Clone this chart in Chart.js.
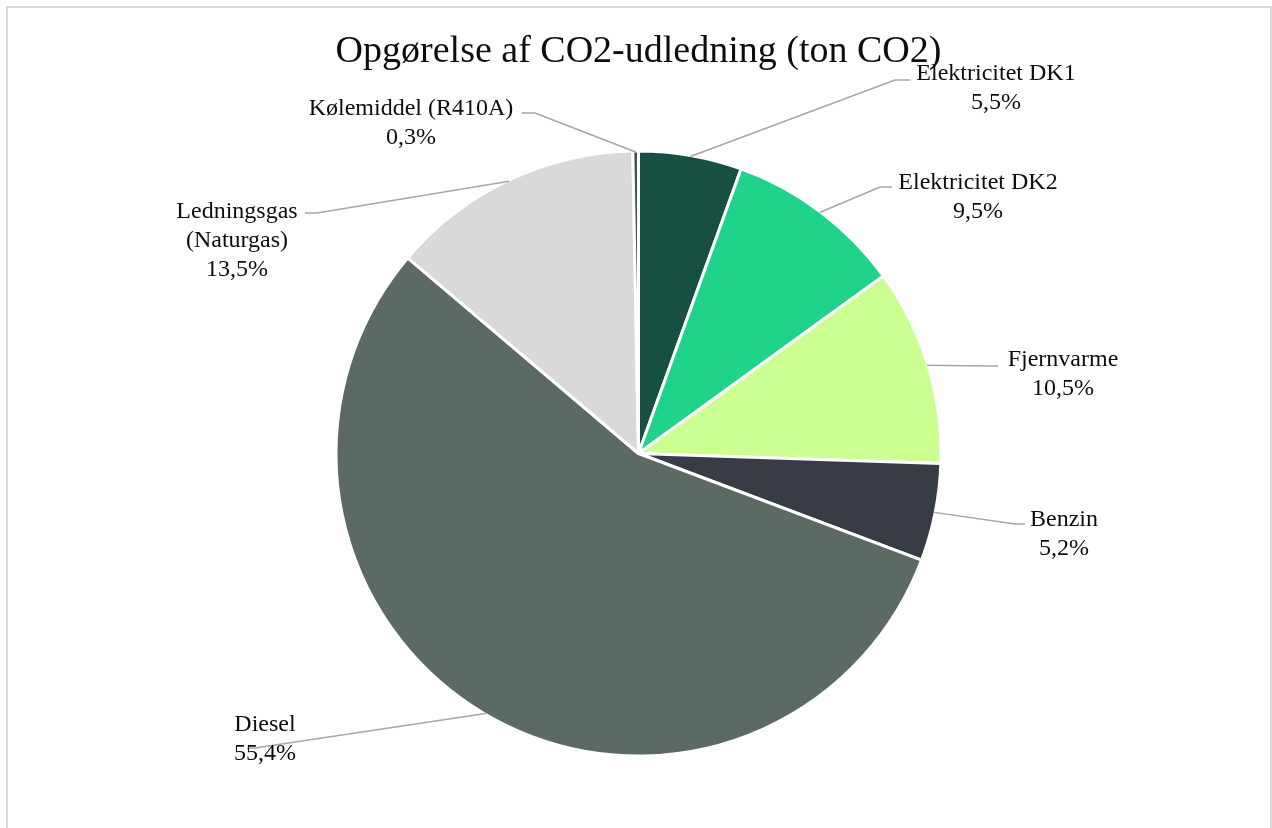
<!DOCTYPE html>
<html lang="da">
<head>
    <meta charset="UTF-8">
    <script src="https://cdn.jsdelivr.net/npm/chart.js"></script>
    <title>Opgørelse af CO2-udledning</title>
    <style>
        body {
            margin: 0;
            background: #fff;
            overflow: hidden;
        }
        #frame {
            position: absolute;
            left: 6px;
            top: 6px;
            width: 1262px;
            height: 840px;
            border: 2px solid #d9d9d9;
        }
        #wrap {
            position: absolute;
            left: 0;
            top: 0;
            width: 1272px;
            height: 828px;
        }
    </style>
</head>

<body>
    <div id="frame"></div>
    <div id="wrap"><canvas id="co2Chart"></canvas></div>

    <script>
        // kategorier og andele (%)
        const categories = [
            'Elektricitet DK1',
            'Elektricitet DK2',
            'Fjernvarme',
            'Benzin',
            'Diesel',
            ['Ledningsgas', '(Naturgas)'],
            'Kølemiddel (R410A)'
        ];
        const shares = [5.5, 9.5, 10.5, 5.2, 55.4, 13.5, 0.3];
        const sliceColors = ['#174f42', '#1fd38a', '#ccff91', '#383d45', '#5b6b64', '#d9d9d9', '#3f5650'];

        // placering af etiketter: tekstcentrum (første linje) + knæk og slutpunkt for streg
        const labelSpots = [
            { x: 996, y: 74, elbow: [895, 80], end: [910, 80] },
            { x: 978, y: 183, elbow: [880, 187], end: [892, 187] },
            { x: 1063, y: 360, elbow: [990, 366], end: [998, 366] },
            { x: 1064, y: 520, elbow: [1015, 524], end: [1025, 524] },
            { x: 265, y: 725, elbow: [255, 748], end: [247, 748] },
            { x: 237, y: 212, elbow: [317, 213], end: [305, 213] },
            { x: 411, y: 109, elbow: [535, 113], end: [522, 113] }
        ];

        const labelFont = '24px "Liberation Serif", serif';
        const lineGap = 29;

        const outsideLabels = {
            id: 'outsideLabels',
            afterDatasetsDraw(chart) {
                const ctx = chart.ctx;
                const arcs = chart.getDatasetMeta(0).data;
                ctx.save();
                arcs.forEach((arc, i) => {
                    const p = arc.getProps(['x', 'y', 'startAngle', 'endAngle', 'outerRadius'], true);
                    const mid = (p.startAngle + p.endAngle) / 2;
                    const r = p.outerRadius - 1;
                    const spot = labelSpots[i];

                    ctx.strokeStyle = '#a6a6a6';
                    ctx.lineWidth = 1.5;
                    ctx.beginPath();
                    ctx.moveTo(p.x + Math.cos(mid) * r, p.y + Math.sin(mid) * r);
                    ctx.lineTo(spot.elbow[0], spot.elbow[1]);
                    ctx.lineTo(spot.end[0], spot.end[1]);
                    ctx.stroke();

                    const name = categories[i];
                    const lines = (Array.isArray(name) ? name : [name]).slice();
                    lines.push(shares[i].toFixed(1).replace('.', ',') + '%');

                    ctx.font = labelFont;
                    ctx.fillStyle = '#0d0d0d';
                    ctx.textAlign = 'center';
                    ctx.textBaseline = 'middle';
                    lines.forEach((t, k) => ctx.fillText(t, spot.x, spot.y + k * lineGap));
                });
                ctx.restore();
            }
        };

        const ctx = document.getElementById('co2Chart').getContext('2d');
        new Chart(ctx, {
            type: 'pie',
            data: {
                labels: categories,
                datasets: [{
                    data: shares,
                    backgroundColor: sliceColors,
                    borderColor: '#ffffff',
                    borderWidth: 3
                }]
            },
            options: {
                responsive: true,
                maintainAspectRatio: false,
                animation: false,
                layout: {
                    padding: { left: 5, right: 0, top: 0, bottom: 70.5 }
                },
                plugins: {
                    legend: { display: false },
                    tooltip: { enabled: false },
                    title: {
                        display: true,
                        text: 'Opgørelse af CO2-udledning (ton CO2)',
                        color: '#0d0d0d',
                        font: { family: '"Liberation Serif", serif', size: 38, weight: 'normal', lineHeight: 1.2 },
                        padding: { top: 29, bottom: 74.9 }
                    }
                }
            },
            plugins: [outsideLabels]
        });
    </script>
</body>

</html>
